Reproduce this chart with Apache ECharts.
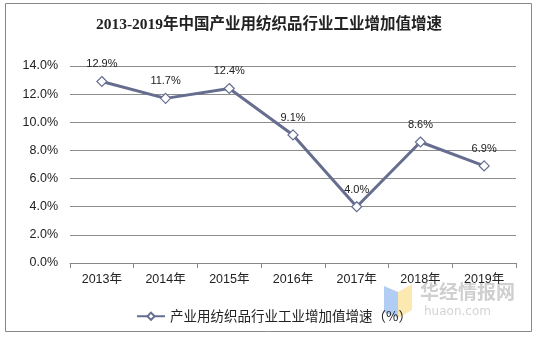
<!DOCTYPE html>
<html><head><meta charset="utf-8">
<script src="https://cdn.jsdelivr.net/npm/echarts@6/dist/echarts.min.js"></script>
<style>html,body{margin:0;padding:0;background:#fff}#c{width:538px;height:339px}</style>
</head><body><div id="c"></div>
<script>
const categories = ['2013年','2014年','2015年','2016年','2017年','2018年','2019年'];
const values = [12.9, 11.7, 12.4, 9.1, 4.0, 8.6, 6.9];
const seriesName = '产业用纺织品行业工业增加值增速（%）';
const titleText = '2013-2019年中国产业用纺织品行业工业增加值增速';

const chart = echarts.init(document.getElementById('c'));
const color = '#666d8f';
chart.setOption({
  animation: false,
  backgroundColor: '#fff',
  title: {
    text: titleText, left: 'center', top: 12,
    textStyle: {fontFamily: '"Liberation Serif","Noto Sans CJK SC",serif', fontWeight: 'bold', fontSize: 15.5, color: '#222'}
  },
  legend: {
    bottom: 11, left: 131, itemWidth: 28, itemHeight: 9, itemGap: 4,
    data: [seriesName],
    textStyle: {fontFamily: '"Noto Sans CJK SC",sans-serif', fontSize: 13.5, color: '#222'}
  },
  grid: {left: 70, right: 22, top: 66, bottom: 76},
  xAxis: {
    type: 'category', data: categories, boundaryGap: true,
    axisLine: {lineStyle: {color: '#888'}},
    axisTick: {show: true, length: 5, lineStyle: {color: '#888'}},
    axisLabel: {color: '#222', fontSize: 12.5, margin: 10, fontFamily: 'Arial,"Liberation Sans","Noto Sans CJK SC",sans-serif'}
  },
  yAxis: {
    type: 'value', min: 0, max: 14, interval: 2,
    axisLine: {show: false}, axisTick: {show: false},
    splitLine: {lineStyle: {color: '#8c8c8c', width: 1}},
    axisLabel: {color: '#222', fontSize: 12.5, margin: 12, fontFamily: 'Arial,"Liberation Sans",sans-serif',
      formatter: v => v.toFixed(1) + '%'}
  },
  series: [{
    name: seriesName, type: 'line', data: values,
    symbol: 'diamond', symbolSize: 10,
    lineStyle: {color: color, width: 3},
    itemStyle: {color: '#fff', borderColor: color, borderWidth: 1.2},
    label: {show: true, position: 'top', distance: 6, color: '#222', fontSize: 11,
      fontFamily: 'Arial,"Liberation Sans",sans-serif',
      formatter: p => p.value.toFixed(1) + '%'}
  }],
  graphic: [
    {type: 'rect', shape: {x: 5.5, y: 3.5, width: 526, height: 328}, style: {fill: 'none', stroke: '#888', lineWidth: 1}, z: -1},
    {type: 'polygon', shape: {points: [[384,286],[398,292],[398,318],[384,312]]}, style: {fill: '#a9c8f2', opacity: 0.9}, silent: true},
    {type: 'polygon', shape: {points: [[398,292],[412,284],[412,310],[398,318]]}, style: {fill: '#fbe7a8', opacity: 0.9}, silent: true},
    {type: 'text', left: 420, top: 282, style: {text: '华经情报网', fill: '#cfcfcf', font: 'bold 19px "Noto Sans CJK SC",sans-serif'}, silent: true},
    {type: 'text', left: 424, top: 306, style: {text: 'huaon.com', fill: '#d4d4d4', font: '12px "DejaVu Sans",sans-serif', letterSpacing: 2}, silent: true}
  ]
});
</script></body></html>
